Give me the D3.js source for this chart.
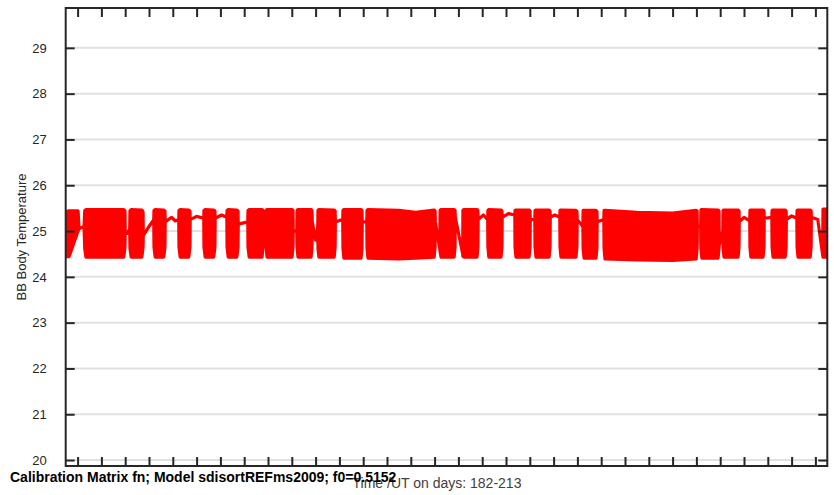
<!DOCTYPE html>
<html>
<head>
<meta charset="utf-8">
<script src="https://cdn.jsdelivr.net/npm/d3@7"></script>
<style>
  html, body { margin: 0; padding: 0; background: #fff; }
  svg { display: block; }
  text { font-family: "Liberation Sans", Arial, sans-serif; }
</style>
</head>
<body>
<svg id="chart" width="834" height="495"></svg>
<script>
// ---- data ----
const yTicks = [20, 21, 22, 23, 24, 25, 26, 27, 28, 29];
const xTicks = d3.range(182, 214); // one tick per day, 182..213
const xDomain = [181.5, 213.5];
const yDomain = [19.87, 29.87];
const titleText = "Calibration Matrix fn; Model sdisortREFms2009; f0=0.5152";
const xLabel = "Time /UT on days: 182-213";
const yLabel = "BB Body Temperature";

// envelope of the BB temperature trace: [day, low, high]
// (dense oscillation blocks have low<high, quiet stretches low==high)
const envelope = [
  [181.51, 24.44, 25.42], [181.64, 24.44, 25.44], [182.02, 25.00, 25.44],
  [182.06, 25.05, 25.05], [182.27, 25.10, 25.10],
  [182.30, 24.62, 25.44], [182.35, 24.43, 25.47], [183.94, 24.43, 25.47], [183.99, 24.65, 25.44],
  [184.00, 25.00, 25.00], [184.10, 24.95, 24.95], [184.19, 25.05, 25.05],
  [184.20, 24.62, 25.44], [184.25, 24.43, 25.47], [184.70, 24.43, 25.46], [184.75, 24.65, 25.42],
  [184.76, 24.90, 24.90], [185.00, 25.10, 25.10], [185.20, 25.25, 25.25],
  [185.21, 24.65, 25.45], [185.26, 24.43, 25.47], [185.62, 24.43, 25.46], [185.67, 24.65, 25.44],
  [185.68, 25.20, 25.20], [185.95, 25.30, 25.30], [186.10, 25.22, 25.22], [186.25, 25.25, 25.25],
  [186.26, 24.65, 25.45], [186.31, 24.43, 25.47], [186.67, 24.43, 25.46], [186.72, 24.65, 25.44],
  [186.73, 25.25, 25.25], [187.00, 25.32, 25.32], [187.30, 25.28, 25.28],
  [187.31, 24.65, 25.45], [187.36, 24.43, 25.47], [187.72, 24.43, 25.46], [187.77, 24.65, 25.44],
  [187.78, 25.28, 25.28], [188.05, 25.35, 25.35], [188.27, 25.30, 25.30],
  [188.28, 24.65, 25.45], [188.33, 24.43, 25.47], [188.69, 24.43, 25.46], [188.74, 24.65, 25.44],
  [188.75, 25.15, 25.15], [189.15, 25.20, 25.20],
  [189.16, 24.65, 25.45], [189.21, 24.43, 25.47], [189.75, 24.43, 25.47], [189.79, 24.65, 25.45],
  [189.80, 25.20, 25.20], [189.91, 25.20, 25.20],
  [189.92, 24.65, 25.45], [189.96, 24.43, 25.47], [191.01, 24.43, 25.47], [191.05, 24.65, 25.45],
  [191.06, 25.00, 25.00], [191.21, 25.00, 25.00],
  [191.22, 24.65, 25.45], [191.26, 24.43, 25.47], [191.81, 24.43, 25.47], [191.85, 24.65, 25.45],
  [191.86, 25.20, 25.20], [192.00, 24.80, 24.80], [192.09, 25.10, 25.10],
  [192.10, 24.62, 25.45], [192.14, 24.43, 25.47], [192.78, 24.43, 25.46], [192.82, 24.65, 25.44],
  [192.83, 25.20, 25.20], [193.14, 25.25, 25.25],
  [193.15, 24.62, 25.45], [193.19, 24.41, 25.47], [193.91, 24.41, 25.47], [193.95, 24.62, 25.45],
  [193.96, 25.20, 25.20], [194.15, 25.20, 25.20],
  [194.16, 24.62, 25.45], [194.20, 24.41, 25.47], [195.50, 24.39, 25.45], [196.20, 24.41, 25.41],
  [196.98, 24.43, 25.46], [197.02, 24.65, 25.44],
  [197.03, 25.20, 25.20], [197.22, 24.60, 24.60],
  [197.23, 24.55, 25.45], [197.27, 24.43, 25.47], [197.82, 24.43, 25.47], [197.86, 24.65, 25.45],
  [197.87, 25.30, 25.30], [198.18, 24.50, 24.50],
  [198.19, 24.45, 25.45], [198.23, 24.43, 25.47], [198.78, 24.43, 25.47], [198.82, 24.65, 25.45],
  [198.83, 25.25, 25.25], [199.05, 25.35, 25.35], [199.23, 25.25, 25.25],
  [199.24, 24.65, 25.45], [199.28, 24.43, 25.47], [199.79, 24.43, 25.46], [199.83, 24.65, 25.44],
  [199.84, 25.30, 25.30], [200.10, 25.38, 25.38], [200.37, 25.35, 25.35],
  [200.38, 24.65, 25.45], [200.42, 24.43, 25.46], [200.97, 24.43, 25.46], [201.01, 24.65, 25.44],
  [201.02, 25.25, 25.25], [201.21, 25.25, 25.25],
  [201.22, 24.65, 25.45], [201.26, 24.43, 25.46], [201.81, 24.43, 25.46], [201.85, 24.65, 25.44],
  [201.86, 25.30, 25.30], [202.05, 25.35, 25.35], [202.26, 25.30, 25.30],
  [202.27, 24.65, 25.45], [202.31, 24.43, 25.46], [202.94, 24.43, 25.45], [202.98, 24.65, 25.43],
  [202.99, 25.25, 25.25], [203.23, 25.10, 25.10],
  [203.24, 24.62, 25.45], [203.28, 24.41, 25.45], [203.78, 24.41, 25.45], [203.82, 24.62, 25.43],
  [203.83, 25.20, 25.20], [204.11, 25.25, 25.25],
  [204.12, 24.62, 25.45], [204.16, 24.39, 25.45], [205.50, 24.37, 25.41], [207.00, 24.36, 25.39],
  [207.99, 24.39, 25.45], [208.03, 24.62, 25.44],
  [208.04, 25.10, 25.10], [208.18, 25.10, 25.10],
  [208.19, 24.62, 25.46], [208.23, 24.41, 25.47], [208.91, 24.41, 25.46], [208.95, 24.62, 25.44],
  [208.96, 24.70, 24.70], [209.11, 25.00, 25.00],
  [209.12, 24.62, 25.45], [209.16, 24.43, 25.46], [209.75, 24.43, 25.46], [209.79, 24.65, 25.44],
  [209.80, 25.20, 25.20], [210.00, 25.30, 25.30], [210.24, 25.22, 25.22],
  [210.25, 24.65, 25.45], [210.29, 24.43, 25.46], [210.80, 24.43, 25.46], [210.84, 24.65, 25.44],
  [210.85, 25.28, 25.28], [211.17, 25.30, 25.30],
  [211.18, 24.65, 25.45], [211.22, 24.43, 25.46], [211.73, 24.43, 25.46], [211.77, 24.65, 25.44],
  [211.78, 25.25, 25.25], [212.00, 25.33, 25.33], [212.22, 25.28, 25.28],
  [212.23, 24.65, 25.45], [212.27, 24.43, 25.46], [212.78, 24.43, 25.46], [212.82, 24.65, 25.44],
  [212.83, 25.30, 25.30], [213.10, 25.25, 25.25], [213.30, 24.50, 24.50],
  [213.32, 24.43, 25.48], [213.50, 24.43, 25.48]
];

// ---- layout ----
const svg = d3.select("#chart");
const L = 65.7, R = 827.3, T = 8, B = 466;
const x = d3.scaleLinear().domain(xDomain).range([L, R]);
const y = d3.scaleLinear().domain(yDomain).range([B, T]);
const ink = "#262626";

// grid lines
svg.append("g").selectAll("line").data(yTicks).join("line")
  .attr("x1", L).attr("x2", R)
  .attr("y1", d => y(d)).attr("y2", d => y(d))
  .attr("stroke", "#e1e1e1").attr("stroke-width", 2);

// data
svg.append("clipPath").attr("id", "clip")
  .append("rect").attr("x", L).attr("y", T).attr("width", R - L).attr("height", B - T);
const area = d3.area()
  .x(d => x(d[0])).y0(d => y(d[1])).y1(d => y(d[2]));
svg.append("path")
  .datum(envelope)
  .attr("clip-path", "url(#clip)")
  .attr("d", area)
  .attr("fill", "#ff0000")
  .attr("stroke", "#ff0000")
  .attr("stroke-width", 3.2)
  .attr("stroke-linejoin", "round");

// axes (ticks inward, box style)
const tickLen = 9;
svg.append("g").attr("transform", `translate(0,${B})`)
  .call(d3.axisBottom(x).tickValues(xTicks).tickSize(-tickLen).tickFormat(""))
  .call(g => g.select(".domain").remove());
svg.append("g").attr("transform", `translate(0,${T})`)
  .call(d3.axisTop(x).tickValues(xTicks).tickSize(-tickLen).tickFormat(""))
  .call(g => g.select(".domain").remove());
svg.append("g").attr("transform", `translate(${L},0)`)
  .call(d3.axisLeft(y).tickValues(yTicks).tickSize(-tickLen).tickPadding(19).tickFormat(d3.format("d")))
  .call(g => g.select(".domain").remove());
svg.append("g").attr("transform", `translate(${R},0)`)
  .call(d3.axisRight(y).tickValues(yTicks).tickSize(-tickLen).tickFormat(""))
  .call(g => g.select(".domain").remove());
svg.selectAll(".tick line").attr("stroke", ink).attr("stroke-width", 2);
svg.selectAll(".tick text").attr("fill", ink).attr("font-size", 13)
  .attr("font-family", "Liberation Sans, Arial, sans-serif");

// frame
svg.append("rect").attr("x", L).attr("y", T).attr("width", R - L).attr("height", B - T)
  .attr("fill", "none").attr("stroke", ink).attr("stroke-width", 2);

// labels
svg.append("text")
  .attr("transform", `translate(26,${(T + B) / 2}) rotate(-90)`)
  .attr("text-anchor", "middle").attr("font-size", 13).attr("fill", ink)
  .text(yLabel);
svg.append("text")
  .attr("x", 437).attr("y", 488)
  .attr("text-anchor", "middle").attr("font-size", 14).attr("fill", "#404040")
  .text(xLabel);
svg.append("text")
  .attr("x", 10).attr("y", 482)
  .attr("font-size", 14).attr("font-weight", "bold").attr("fill", "#000")
  .text(titleText);
</script>
</body>
</html>
